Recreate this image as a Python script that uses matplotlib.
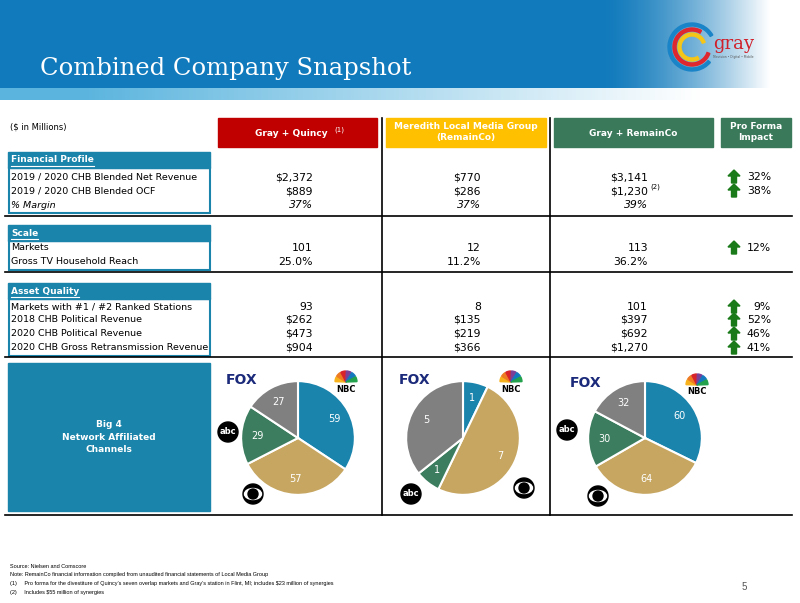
import numpy as np
import matplotlib
matplotlib.use("Agg")
import matplotlib.pyplot as plt
from matplotlib.patches import Rectangle, Circle, Ellipse, Wedge, Polygon

# ---- data ----
col_heads = ["Gray + Quincy", "Meredith Local Media Group\n(RemainCo)", "Gray + RemainCo"]

fin_rows = ["2019 / 2020 CHB Blended Net Revenue", "2019 / 2020 CHB Blended OCF", "% Margin"]
fin_quincy = ["$2,372", "$889", "37%"]
fin_remainco = ["$770", "$286", "37%"]
fin_combined = ["$3,141", "$1,230", "39%"]
fin_impact = ["32%", "38%", None]

scale_rows = ["Markets", "Gross TV Household Reach"]
scale_quincy = ["101", "25.0%"]
scale_remainco = ["12", "11.2%"]
scale_combined = ["113", "36.2%"]
scale_impact = ["12%", None]

asset_rows = ["Markets with #1 / #2 Ranked Stations", "2018 CHB Political Revenue",
              "2020 CHB Political Revenue", "2020 CHB Gross Retransmission Revenue"]
asset_quincy = ["93", "$262", "$473", "$904"]
asset_remainco = ["8", "$135", "$219", "$366"]
asset_combined = ["101", "$397", "$692", "$1,270"]
asset_impact = ["9%", "52%", "46%", "41%"]

networks = ["NBC", "CBS", "ABC", "FOX"]
pie_quincy = [59, 57, 29, 27]
pie_remainco = [1, 7, 1, 5]
pie_combined = [60, 64, 30, 32]

footnotes = [
    "Source: Nielsen and Comscore",
    "Note: RemainCo financial information compiled from unaudited financial statements of Local Media Group",
    "(1)     Pro forma for the divestiture of Quincy\u2019s seven overlap markets and Gray\u2019s station in Flint, MI; includes $23 million of synergies",
    "(2)     Includes $55 million of synergies",
]

pie_colors = ["#1A84AD", "#C6A661", "#3B7D5E", "#808080"]
teal = "#1B84AA"
green_hdr = "#3A7A5B"
arrow_green = "#1A7A1A"

fig = plt.figure(figsize=(8, 6.03), dpi=100)
ax = fig.add_axes([0, 0, 1, 1])
ax.set_xlim(0, 800)
ax.set_ylim(603, 0)
ax.axis("off")

# header band with gradient
w = 800
xs = np.linspace(0, 800, w)
fade = np.clip((xs - 600) / 170, 0, 1) ** 1.5
base = np.array([16, 122, 188]) / 255
top = np.zeros((1, w, 3))
for i in range(3):
    top[0, :, i] = base[i] * (1 - fade) + fade
ax.imshow(top, extent=[0, 800, 88, 0], aspect="auto", zorder=0)
light = np.array([90, 180, 222]) / 255
fade2 = np.clip((xs - 80) / 620, 0, 1)
strip = np.zeros((1, w, 3))
for i in range(3):
    strip[0, :, i] = light[i] * (1 - fade2) + fade2
ax.imshow(strip, extent=[0, 800, 100, 88], aspect="auto", zorder=0)
ax.text(40, 69, "Combined Company Snapshot", color="white", fontsize=17.5,
        family="DejaVu Serif", va="center", ha="left")

# gray logo
for r, c, t1, t2 in [(24, "#1A84C8", 40, 330), (19, "#E0262E", 20, 300), (14, "#F5C518", 60, 340)]:
    ax.add_patch(Wedge((692, 47), r, t1, t2, width=3, color=c, zorder=3))
ax.text(713, 44, "gray", color="#D0202A", fontsize=13, family="DejaVu Serif", va="center")
ax.text(712, 57, "Television \u2022 Digital \u2022 Mobile", color="#555555", fontsize=2.2, va="center")

# column headers
ax.text(10, 127, "($ in Millions)", fontsize=6, va="center")
ax.add_patch(Rectangle((218, 118), 159, 29, color="#C00000"))
ax.add_patch(Rectangle((386, 118), 160, 29, color="#FFC000"))
ax.add_patch(Rectangle((554, 118), 159, 29, color=green_hdr))
ax.add_patch(Rectangle((721, 118), 70, 29, color=green_hdr))
ax.text(291, 133, col_heads[0], color="white", fontsize=6.5, weight="bold", ha="center", va="center")
ax.text(334, 130, "(1)", color="white", fontsize=5, ha="left", va="center")
ax.text(466, 132, col_heads[1], color="white", fontsize=6.5, weight="bold", ha="center", va="center",
        linespacing=1.3)
ax.text(633, 133, col_heads[2], color="white", fontsize=6.5, weight="bold", ha="center", va="center")
ax.text(756, 132, "Pro Forma\nImpact", color="white", fontsize=6.5, weight="bold", ha="center",
        va="center", linespacing=1.3)

# grid lines
for y in [216, 272, 357, 515]:
    ax.plot([5, 792], [y, y], color="black", lw=1.2)
for x in [382, 550]:
    ax.plot([x, x], [118, 515], color="black", lw=1.2)


def up_arrow(xc, yc):
    pts = [(xc - 6, yc - 1), (xc, yc - 7), (xc + 6, yc - 1), (xc + 2.5, yc - 1),
           (xc + 2.5, yc + 6), (xc - 2.5, yc + 6), (xc - 2.5, yc - 1)]
    ax.add_patch(Polygon(pts, closed=True, color=arrow_green, zorder=4))


renderer = fig.canvas.get_renderer()


def section(title, y0, rows, c1, c2, c3, imp, ys, italic_last=False):
    ax.add_patch(Rectangle((8, y0), 202, 16, color=teal))
    t = ax.text(11, y0 + 8, title, color="white", fontsize=6.5, weight="bold", va="center")
    bb = t.get_window_extent(renderer)
    ax.plot([11, 11 + bb.width], [y0 + 13.5, y0 + 13.5], color="white", lw=0.8)
    h = ys[-1] - y0 + 8
    ax.add_patch(Rectangle((8.5, y0 + 16), 201, h - 16, fill=False, edgecolor=teal, lw=1.5))
    for i, y in enumerate(ys):
        st = "italic" if (italic_last and i == len(ys) - 1) else "normal"
        ax.text(11, y, rows[i], fontsize=6.8, va="center", style=st)
        ax.text(313, y, c1[i], fontsize=7.8, va="center", ha="right", style=st)
        ax.text(481, y, c2[i], fontsize=7.8, va="center", ha="right", style=st)
        ax.text(648, y, c3[i], fontsize=7.8, va="center", ha="right", style=st)
        if imp[i]:
            up_arrow(734, y)
            ax.text(771, y, imp[i], fontsize=7.8, va="center", ha="right")


section("Financial Profile", 152, fin_rows, fin_quincy, fin_remainco, fin_combined, fin_impact,
        [177, 191, 205], italic_last=True)
ax.text(650, 187, "(2)", fontsize=5, va="center")
section("Scale", 225, scale_rows, scale_quincy, scale_remainco, scale_combined, scale_impact,
        [248, 262])
section("Asset Quality", 283, asset_rows, asset_quincy, asset_remainco, asset_combined, asset_impact,
        [307, 320, 334, 348])

# big 4 box
ax.add_patch(Rectangle((8, 363), 202, 148, color=teal))
ax.text(109, 437, "Big 4\nNetwork Affiliated\nChannels", color="white", fontsize=6.5,
        weight="bold", ha="center", va="center", linespacing=1.5)


# network logos
def fox(x, y):
    ax.text(x, y, "FOX", color="#1B2A7A", fontsize=10, weight="heavy", ha="center", va="center",
            family="DejaVu Sans")


def nbc(x, y):
    cols = ["#F7B21B", "#EE7A22", "#D8232A", "#7B3F98", "#1478BE", "#23A14D"]
    for i, c in enumerate(cols):
        t1 = 180 + i * 30
        ax.add_patch(Wedge((x, y), 11, t1 + 2, t1 + 28, color=c, zorder=3))
    ax.text(x, y + 7, "NBC", fontsize=6, weight="bold", ha="center", va="center")


def abc(x, y):
    ax.add_patch(Circle((x, y), 10, color="black", zorder=3))
    ax.text(x, y, "abc", color="white", fontsize=6, weight="bold", ha="center", va="center", zorder=4)


def cbs(x, y):
    ax.add_patch(Circle((x, y), 10, color="black", zorder=3))
    ax.add_patch(Ellipse((x, y), 17, 11, color="white", zorder=4))
    ax.add_patch(Circle((x, y), 5, color="black", zorder=5))


fox(242, 380); nbc(346, 382); abc(228, 432); cbs(253, 494)
fox(415, 380); nbc(511, 382); abc(411, 494); cbs(524, 488)
fox(586, 383); nbc(697, 385); abc(567, 430); cbs(598, 496)


# pies
def draw_pie(cx, cy, vals, r=58):
    pax = fig.add_axes([(cx - r) / 800, (603 - cy - r) / 603, 2 * r / 800, 2 * r / 603])
    pax.pie(vals, colors=pie_colors, startangle=90, counterclock=False,
            wedgeprops=dict(edgecolor="white", linewidth=1.5),
            autopct=lambda p: "%d" % round(p * sum(vals) / 100), pctdistance=0.72,
            textprops=dict(color="white", fontsize=7))
    pax.set_xlim(-1.02, 1.02)
    pax.set_ylim(-1.02, 1.02)
    pax.set_aspect("equal")


draw_pie(298, 438, pie_quincy)
draw_pie(463, 438, pie_remainco)
draw_pie(645, 438, pie_combined)

# footnotes
for i, t in enumerate(footnotes):
    ax.text(10, 566 + i * 8.7, t, fontsize=4.0, va="center",
            family=["Liberation Sans", "DejaVu Sans"])
ax.text(742, 587, "5", fontsize=7, color="#555555", va="center",
        family=["Liberation Sans", "DejaVu Sans"])

fig.savefig("out.png", dpi=100)
